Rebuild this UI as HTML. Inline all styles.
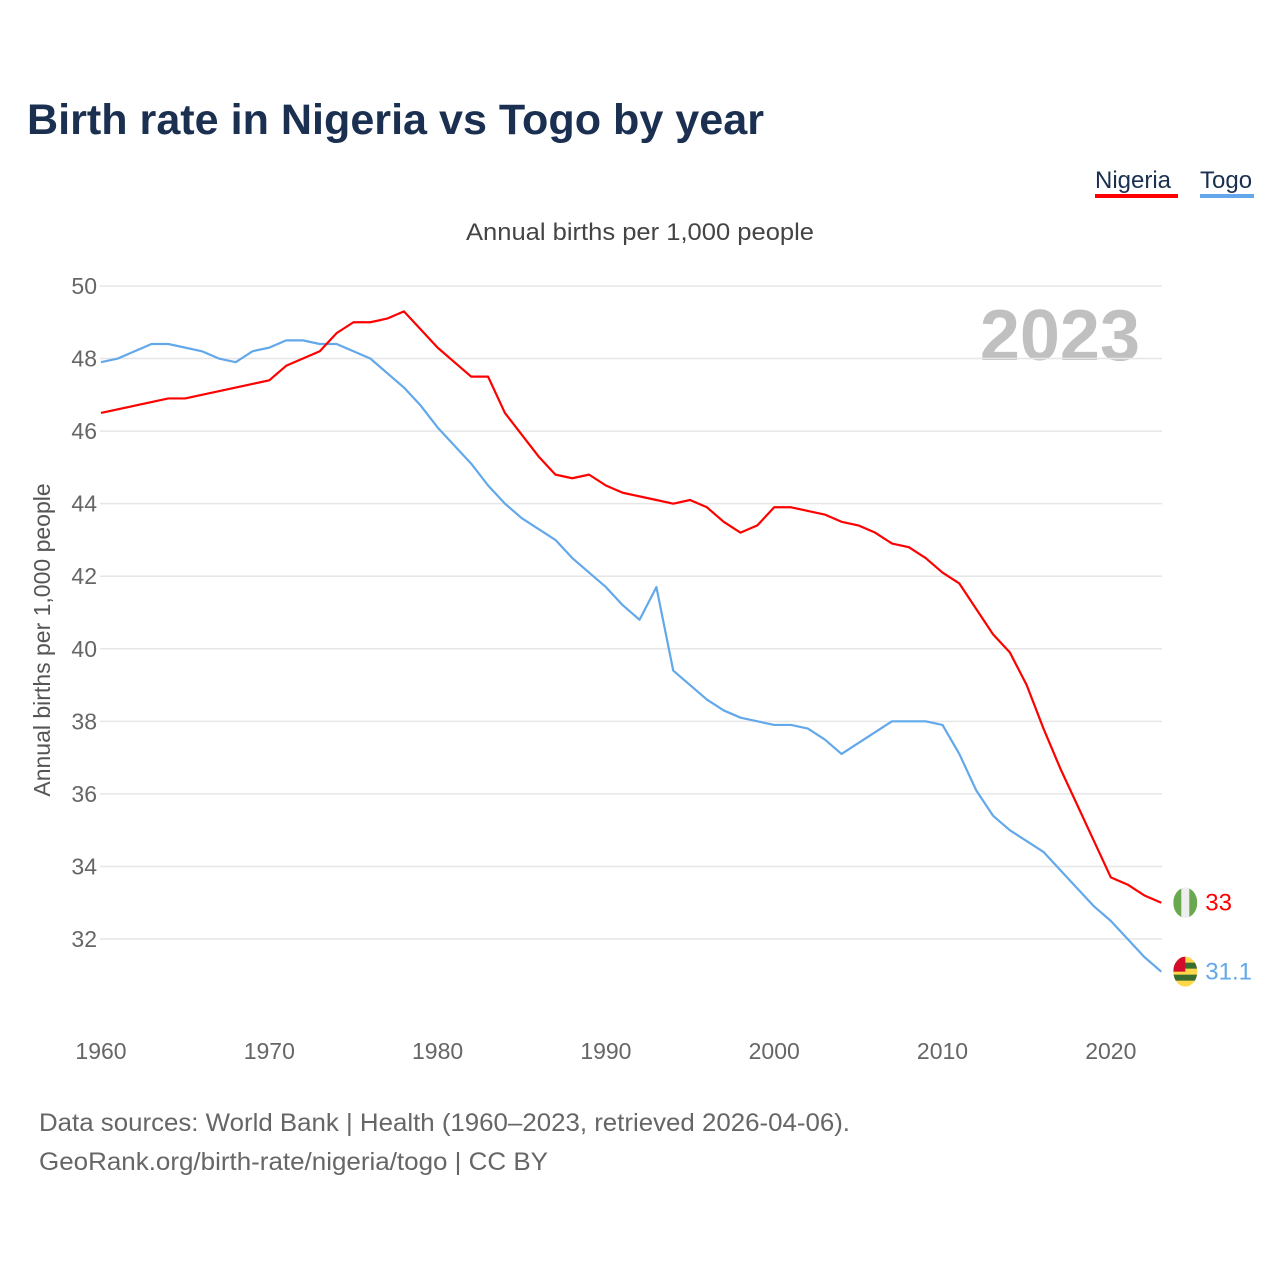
<!DOCTYPE html>
<html><head><meta charset="utf-8"><style>
body{margin:0;background:#fff;font-family:"Liberation Sans",sans-serif}
svg text{font-family:"Liberation Sans",sans-serif}
</style></head><body>
<svg width="1280" height="1280" viewBox="0 0 1280 1280">
<defs>
<clipPath id="cn"><ellipse cx="0" cy="0" rx="12" ry="15"/></clipPath>
</defs>
<text x="27" y="134" font-size="43" font-weight="bold" fill="#1b3050" textLength="737" lengthAdjust="spacingAndGlyphs">Birth rate in Nigeria vs Togo by year</text>
<g>
<text x="1095" y="188" font-size="24" fill="#1b3050">Nigeria</text>
<rect x="1095" y="194" width="83" height="4" fill="#ff0000"/>
<text x="1200" y="188" font-size="24" fill="#1b3050">Togo</text>
<rect x="1200" y="194" width="54" height="4" fill="#62a8ea"/>
</g>
<text x="640" y="240" font-size="24" fill="#444" text-anchor="middle" textLength="348" lengthAdjust="spacingAndGlyphs">Annual births per 1,000 people</text>
<text x="1140" y="360" font-size="72" font-weight="bold" fill="#c0c0c0" text-anchor="end">2023</text>
<text transform="translate(50,640) rotate(-90)" font-size="23" fill="#555" text-anchor="middle">Annual births per 1,000 people</text>
<g id="grid"></g><g id="lines"></g><g id="ends"></g>
<text x="39" y="1131" font-size="25" fill="#666" textLength="811" lengthAdjust="spacingAndGlyphs">Data sources: World Bank | Health (1960–2023, retrieved 2026-04-06).</text>
<text x="39" y="1170" font-size="25" fill="#666" textLength="509" lengthAdjust="spacingAndGlyphs">GeoRank.org/birth-rate/nigeria/togo | CC BY</text>
</svg>
<script>
const startYear = 1960;
const nigeria = [46.5,46.6,46.7,46.8,46.9,46.9,47.0,47.1,47.2,47.3,47.4,47.8,48.0,48.2,48.7,49.0,49.0,49.1,49.3,48.8,48.3,47.9,47.5,47.5,46.5,45.9,45.3,44.8,44.7,44.8,44.5,44.3,44.2,44.1,44.0,44.1,43.9,43.5,43.2,43.4,43.9,43.9,43.8,43.7,43.5,43.4,43.2,42.9,42.8,42.5,42.1,41.8,41.1,40.4,39.9,39.0,37.8,36.7,35.7,34.7,33.7,33.5,33.2,33.0];
const togo = [47.9,48.0,48.2,48.4,48.4,48.3,48.2,48.0,47.9,48.2,48.3,48.5,48.5,48.4,48.4,48.2,48.0,47.6,47.2,46.7,46.1,45.6,45.1,44.5,44.0,43.6,43.3,43.0,42.5,42.1,41.7,41.2,40.8,41.7,39.4,39.0,38.6,38.3,38.1,38.0,37.9,37.9,37.8,37.5,37.1,37.4,37.7,38.0,38.0,38.0,37.9,37.1,36.1,35.4,35.0,34.7,34.4,33.9,33.4,32.9,32.5,32.0,31.5,31.1];
const yTicks = [32,34,36,38,40,42,44,46,48,50];
const xTicks = [1960,1970,1980,1990,2000,2010,2020];
const NS="http://www.w3.org/2000/svg";
const x = yr => 101 + (yr-1960)*16.83;
const y = v => 939 - (v-32)*36.28;
function mk(tag, attrs, parent){const e=document.createElementNS(NS,tag);for(const k in attrs)e.setAttribute(k,attrs[k]);parent.appendChild(e);return e;}
const grid=document.getElementById('grid');
yTicks.forEach(t=>{
  const l=mk('line',{x1:100,x2:1162,y1:y(t),y2:y(t),stroke:'#e6e6e6','stroke-width':1.5},grid);
  
  
  const tx=mk('text',{x:97,y:y(t)+8,'font-size':23,fill:'#666','text-anchor':'end'},grid);
  tx.textContent=t;
  
  
});
xTicks.forEach(t=>{
  const tx=mk('text',{x:x(t),y:1059,'font-size':23,fill:'#666','text-anchor':'middle'},grid);
  tx.textContent=t;
  
  
});
const lines=document.getElementById('lines');
function series(arr,color,name){
  const p=mk('polyline',{points:arr.map((v,i)=>x(startYear+i)+','+y(v)).join(' '),fill:'none',stroke:color,'stroke-width':2.2,'stroke-linejoin':'round'},lines);
  
  
}
series(togo,'#62a8ea','line-togo');
series(nigeria,'#ff0000','line-nigeria');
const ends=document.getElementById('ends');
const last=startYear+nigeria.length-1;
const nx=x(last), ny=y(nigeria[nigeria.length-1]), ty=y(togo[togo.length-1]);
const g1=mk('g',{transform:'translate('+(nx+24)+','+ny+')','clip-path':'url(#cn)'},ends);


mk('rect',{x:-12,y:-15,width:24,height:30,fill:'#6aa84f'},g1);
mk('rect',{x:-4,y:-15,width:8,height:30,fill:'#eee'},g1);
const t1=mk('text',{x:nx+44,y:ny+8,'font-size':24,fill:'#ff0000'},ends);
t1.textContent=nigeria[nigeria.length-1];


const g2=mk('g',{transform:'translate('+(nx+24)+','+ty+')','clip-path':'url(#cn)'},ends);


mk('rect',{x:-12,y:-15,width:24,height:30,fill:'#ffd84a'},g2);
mk('rect',{x:-12,y:-9,width:24,height:6,fill:'#3a6e30'},g2);
mk('rect',{x:-12,y:3,width:24,height:6,fill:'#3a6e30'},g2);
mk('rect',{x:-12,y:-15,width:12,height:15,fill:'#d20c2a'},g2);
const t2=mk('text',{x:nx+44,y:ty+8,'font-size':24,fill:'#62a8ea'},ends);
t2.textContent=togo[togo.length-1];


</script>
</body></html>
